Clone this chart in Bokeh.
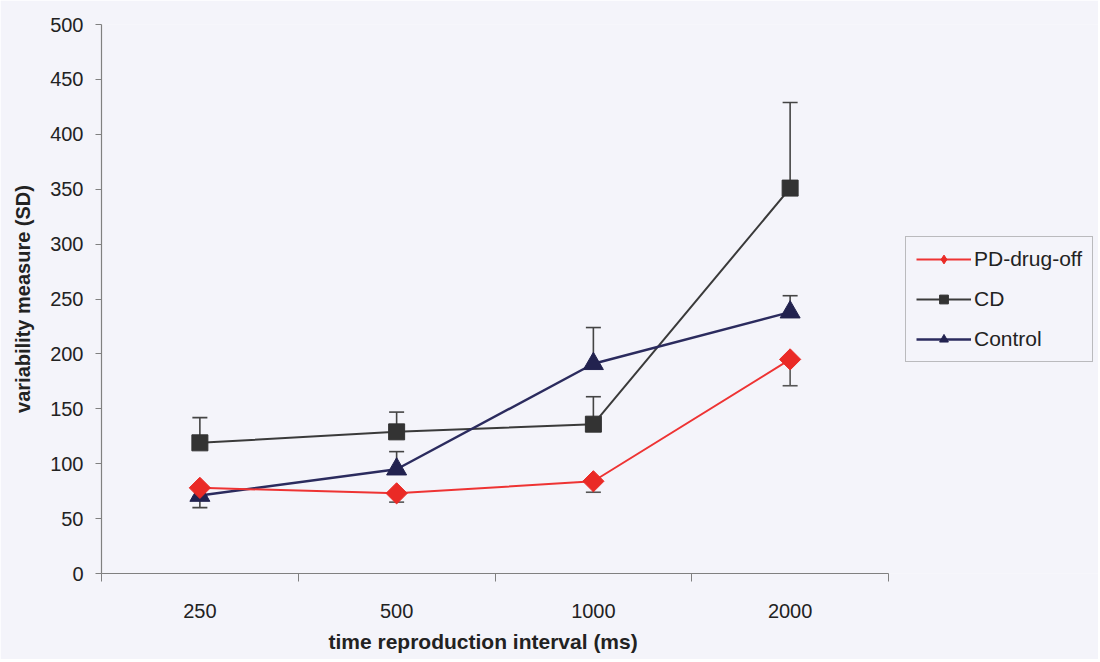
import numpy as np
from bokeh.plotting import figure
from bokeh.models import (Range1d, FixedTicker, Whisker, ColumnDataSource,
                          Legend, LegendItem, TeeHead, Title)
from bokeh.embed import file_html
from bokeh.resources import INLINE

# ---- data ----
intervals = ["250", "500", "1000", "2000"]
pd_off = [78, 73, 84, 195]
pd_off_err_end = [70, 65, 74, 171]
cd = [119, 129, 136, 351]
cd_err_end = [142, 147, 161, 429]
control = [71, 95, 191, 238]
control_err_end = [60, 111, 224, 253]
y_ticks = [0, 50, 100, 150, 200, 250, 300, 350, 400, 450, 500]

BG = "#f4f4fa"
FONT = "Liberation Sans"

PLOT_W = 787      # width of the category area in px
FRAME_W = 997     # frame extended to the right to host the legend
n = len(intervals)
xpos = [i + 0.5 for i in range(n)]

p = figure(frame_width=FRAME_W, frame_height=549, output_backend="svg",
           toolbar_location=None, x_range=Range1d(0, n * FRAME_W / PLOT_W),
           y_range=Range1d(0, 500), min_border_left=101, min_border_top=24,
           min_border_bottom=80, min_border_right=0)
p.background_fill_color = BG
p.border_fill_color = BG
p.outline_line_color = None
p.grid.visible = False

# axes
p.xaxis.bounds = (0, n)
p.xaxis.ticker = FixedTicker(ticks=xpos, minor_ticks=list(range(n + 1)))
p.xaxis.major_label_overrides = {x: lab for x, lab in zip(xpos, intervals)}
p.xaxis.major_tick_out = 0
p.xaxis.major_tick_in = 0
p.xaxis.minor_tick_out = 8
p.xaxis.minor_tick_in = 0
p.xaxis.minor_tick_line_color = "#808080"
p.xaxis.major_label_standoff = 22

p.yaxis.ticker = FixedTicker(ticks=y_ticks)
p.yaxis.minor_tick_line_color = None
p.yaxis.major_tick_out = 6
p.yaxis.major_tick_in = 0
p.yaxis.major_label_standoff = 12
p.yaxis.axis_label = "variability measure (SD)"
p.yaxis.axis_label_standoff = 13

for ax in (p.xaxis, p.yaxis):
    ax.axis_line_color = "#808080"
    ax.axis_line_width = 1.2
    ax.major_label_text_font = FONT
    ax.major_label_text_font_size = "20px"
    ax.major_label_text_color = "#222222"
    ax.axis_label_text_font = FONT
    ax.axis_label_text_font_style = "bold"
    ax.axis_label_text_font_size = "20px"
    ax.axis_label_text_color = "#222222"
p.yaxis.major_tick_line_color = "#808080"
p.xaxis.major_tick_line_color = None

# x axis title, placed under the middle of the category area
xt = Title(text="time reproduction interval (ms)", align="left",
           offset=227, text_font=FONT, text_font_style="bold",
           text_font_size="21px", text_color="#222222", standoff=14)
p.add_layout(xt, "below")


def add_errors(values, ends, color):
    up_x, up_lo, up_hi, dn_x, dn_lo, dn_hi = [], [], [], [], [], []
    for x, v, e in zip(xpos, values, ends):
        if e > v:
            up_x.append(x); up_lo.append(v); up_hi.append(e)
        elif e < v:
            dn_x.append(x); dn_lo.append(e); dn_hi.append(v)
    if up_x:
        src = ColumnDataSource(dict(x=up_x, lo=up_lo, hi=up_hi))
        w = Whisker(base="x", lower="lo", upper="hi", source=src,
                    line_color=color, line_width=1.6, level="underlay",
                    upper_head=TeeHead(size=15, line_color=color, line_width=1.6),
                    lower_head=None)
        p.add_layout(w)
    if dn_x:
        src = ColumnDataSource(dict(x=dn_x, lo=dn_lo, hi=dn_hi))
        w = Whisker(base="x", lower="lo", upper="hi", source=src,
                    line_color=color, line_width=1.6, level="underlay",
                    lower_head=TeeHead(size=15, line_color=color, line_width=1.6),
                    upper_head=None)
        p.add_layout(w)


add_errors(pd_off, pd_off_err_end, "#555555")
add_errors(cd, cd_err_end, "#444444")
add_errors(control, control_err_end, "#444444")

items = []

l_cd = p.line(xpos, cd, line_color="#3a3a3a", line_width=2)
s_cd = p.scatter(xpos, cd, marker="square", size=16, fill_color="#333333",
                 line_color="#333333")
items.append(("CD", [l_cd, s_cd]))

l_ct = p.line(xpos, control, line_color="#2b2b5e", line_width=2.4)
s_ct = p.scatter(xpos, control, marker="triangle", size=20, fill_color="#22224f",
                 line_color="#22224f")
items.append(("Control", [l_ct, s_ct]))

l_pd = p.line(xpos, pd_off, line_color="#ee3333", line_width=2)
# upright diamond used for the legend key; drawn under the rotated squares
k_pd = p.scatter(xpos, pd_off, marker="diamond", size=18,
                 fill_color="#ea2a26", line_color="#ea2a26")
s_pd = p.scatter(xpos, pd_off, marker="square", angle=np.pi / 4, size=15,
                 fill_color="#ea2a26", line_color="#ea2a26")
items.insert(0, ("PD-drug-off", [l_pd, k_pd]))

legend = Legend(items=[LegendItem(label=lab, renderers=r) for lab, r in items],
                location=(804, 211), margin=0, padding=10, spacing=16,
                glyph_width=55, glyph_height=22, label_standoff=3,
                label_text_font=FONT, label_text_font_size="21px",
                label_text_color="#222222", border_line_color="#808080",
                border_line_width=1.2, background_fill_color=BG,
                background_fill_alpha=1.0)
p.add_layout(legend)

open("out.html", "w").write(file_html(p, INLINE))
